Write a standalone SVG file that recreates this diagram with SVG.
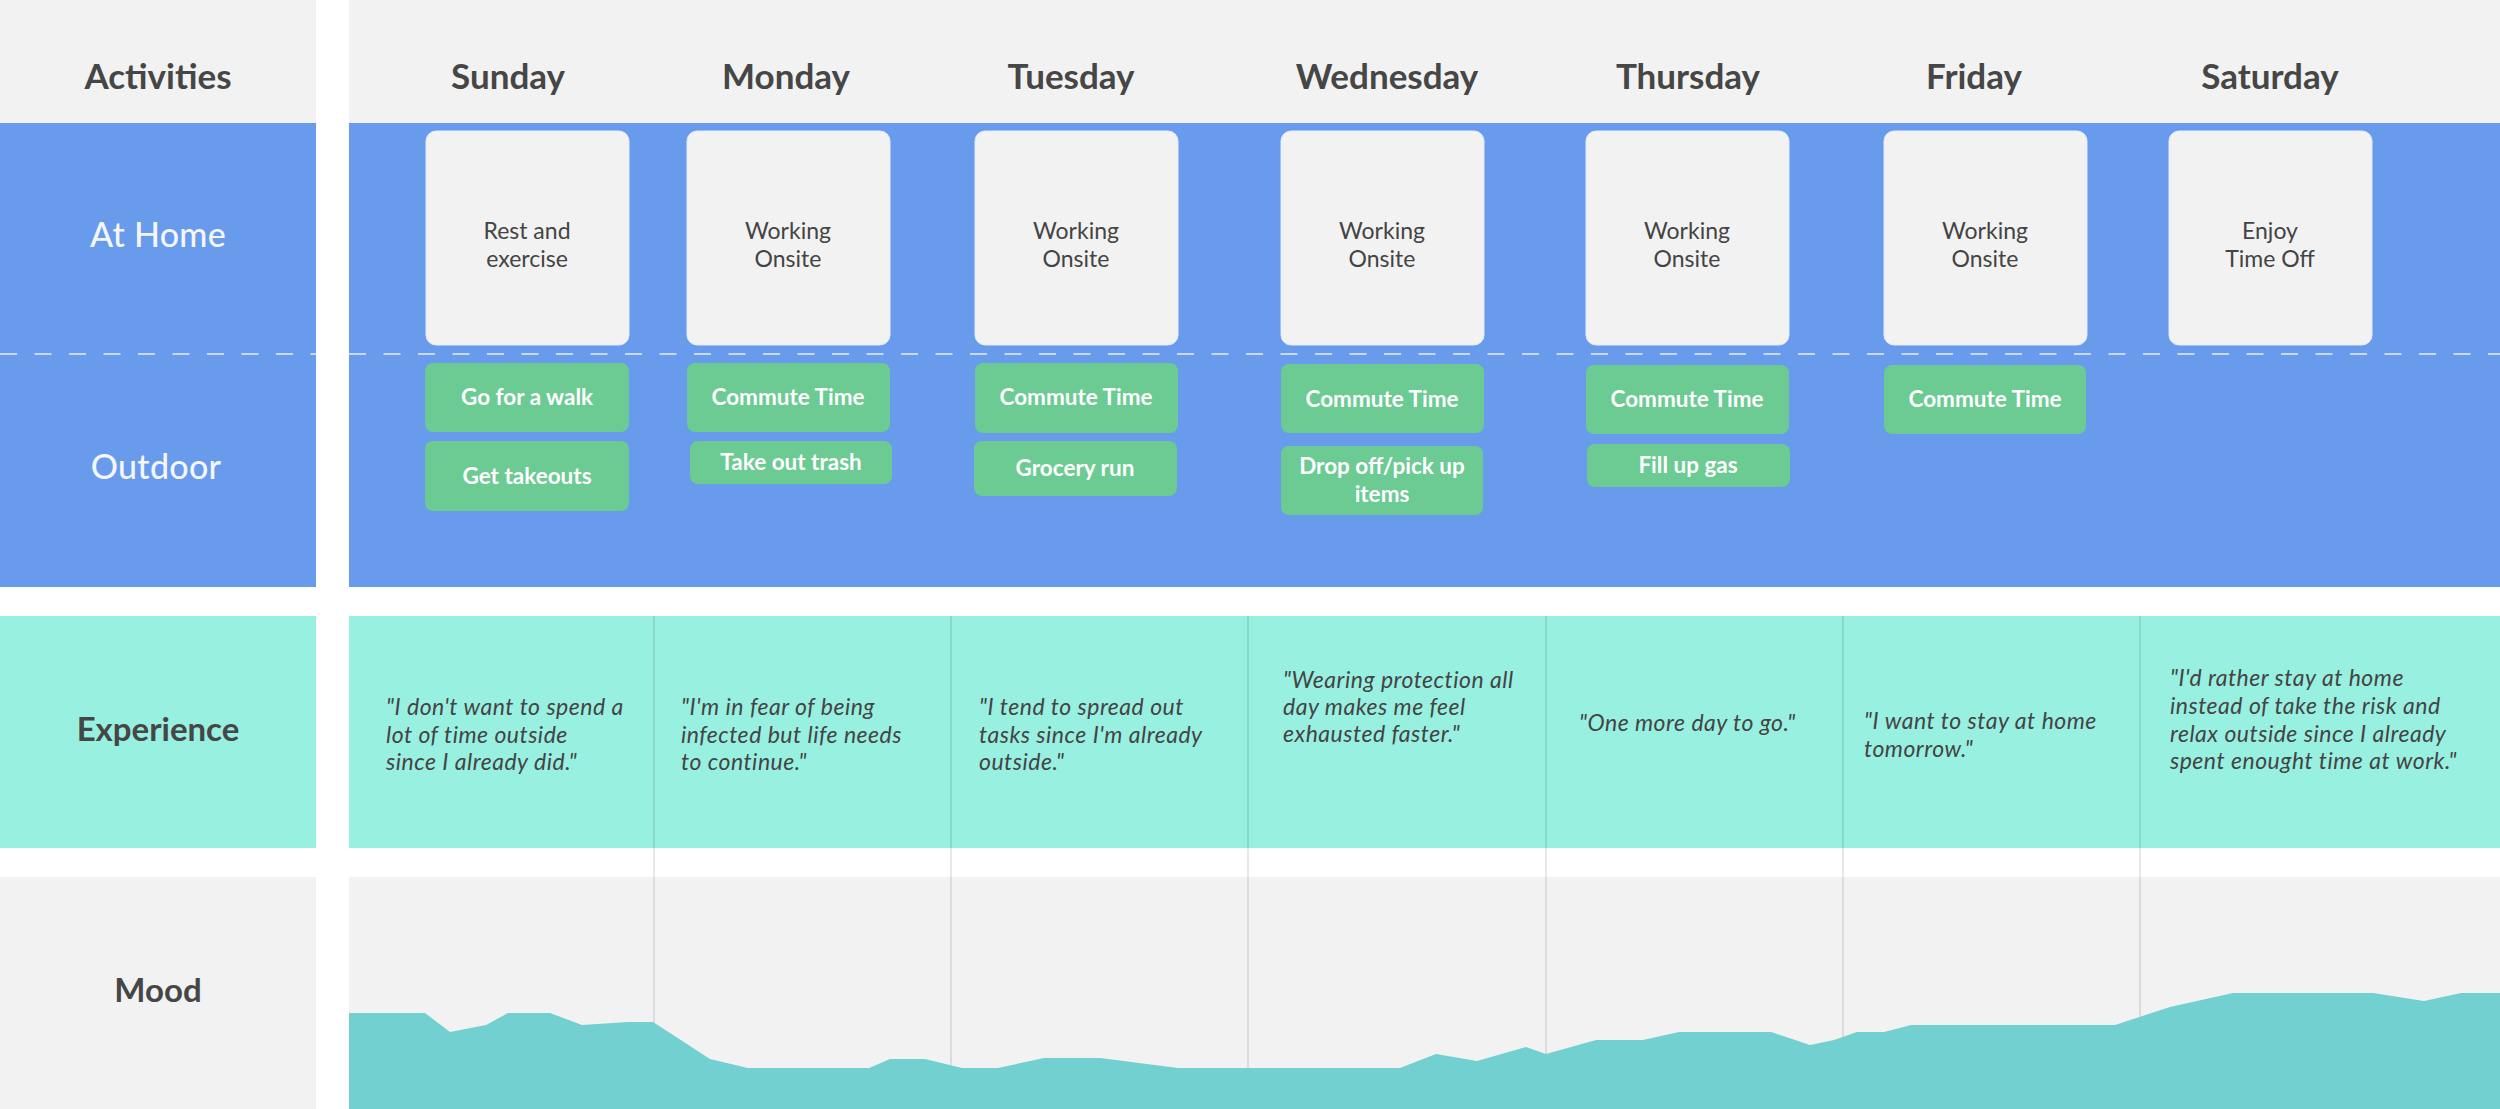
<svg xmlns="http://www.w3.org/2000/svg" width="2500" height="1109" viewBox="0 0 2500 1109">
<style>
.hdr{font-family:Lato,"Open Sans","Liberation Sans",sans-serif;font-weight:700;font-size:35px;fill:#464646;text-anchor:middle}
.lbl{font-family:Lato,"Open Sans","Liberation Sans",sans-serif;font-weight:700;font-size:33px;text-anchor:middle}
.lblw{font-family:Lato,"Open Sans","Liberation Sans",sans-serif;font-weight:500;font-size:34px;fill:#f4f6fb;text-anchor:middle;letter-spacing:0.3px}
.card{fill:#f2f2f2;stroke:#e4ecfb;stroke-width:1}
.ctext{font-family:Lato,"Open Sans","Liberation Sans",sans-serif;font-size:23px;fill:#444;text-anchor:middle}
.out{fill:#6bcb92}
.otext{font-family:Lato,"Open Sans","Liberation Sans",sans-serif;font-weight:700;font-size:22.5px;fill:#fff;text-anchor:middle}
.quote{font-family:Lato,"Open Sans","Liberation Sans",sans-serif;font-style:italic;font-size:23px;letter-spacing:0.5px;fill:#444}
.dash{stroke:#e6edfb;stroke-width:1.5;stroke-dasharray:17 17.5}
.div{stroke:#000;stroke-opacity:0.18;stroke-width:1}
</style>
<rect width="2500" height="1109" fill="#ffffff"/>
<g id="bands">
<rect x="0" y="0" width="316" height="123" fill="#f2f2f2"/>
<rect x="349" y="0" width="2151" height="123" fill="#f2f2f2"/>
<rect x="0" y="123" width="316" height="464" fill="#689bec"/>
<rect x="349" y="123" width="2151" height="464" fill="#689bec"/>
<rect x="0" y="616" width="316" height="232" fill="#98f0e1"/>
<rect x="349" y="616" width="2151" height="232" fill="#98f0e1"/>
<rect x="0" y="877" width="316" height="232" fill="#f2f2f2"/>
<rect x="349" y="877" width="2151" height="232" fill="#f2f2f2"/>
<line class="dash" x1="0" y1="354" x2="316" y2="354"/>
<line class="dash" x1="349" y1="354" x2="2500" y2="354"/>
</g>
<g id="grid">
<line class="div" x1="654" y1="616" x2="654" y2="1109"/>
<line class="div" x1="951" y1="616" x2="951" y2="1109"/>
<line class="div" x1="1248" y1="616" x2="1248" y2="1109"/>
<line class="div" x1="1546" y1="616" x2="1546" y2="1109"/>
<line class="div" x1="1843" y1="616" x2="1843" y2="1109"/>
<line class="div" x1="2140" y1="616" x2="2140" y2="1109"/>
</g>
<g id="row-labels">
<text class="hdr" x="158" y="89">Activities</text>
<text class="lblw" x="158" y="247">At Home</text>
<text class="lblw" x="156" y="479">Outdoor</text>
<text class="lbl" x="158" y="741" fill="#464646">Experience</text>
<text class="lbl" x="158" y="1002" fill="#464646">Mood</text>
</g>
<g id="day-headers">
<text class="hdr" x="508" y="89">Sunday</text>
<text class="hdr" x="786" y="89">Monday</text>
<text class="hdr" x="1071" y="89">Tuesday</text>
<text class="hdr" x="1387" y="89">Wednesday</text>
<text class="hdr" x="1688" y="89">Thursday</text>
<text class="hdr" x="1974" y="89">Friday</text>
<text class="hdr" x="2270" y="89">Saturday</text>
</g>
<g id="home-sunday"><rect class="card" x="426" y="131" width="203" height="214" rx="10"/><text class="ctext" x="527" y="239">Rest and</text><text class="ctext" x="527" y="267">exercise</text></g>
<g id="home-monday"><rect class="card" x="687" y="131" width="203" height="214" rx="10"/><text class="ctext" x="788" y="239">Working</text><text class="ctext" x="788" y="267">Onsite</text></g>
<g id="home-tuesday"><rect class="card" x="975" y="131" width="203" height="214" rx="10"/><text class="ctext" x="1076" y="239">Working</text><text class="ctext" x="1076" y="267">Onsite</text></g>
<g id="home-wednesday"><rect class="card" x="1281" y="131" width="203" height="214" rx="10"/><text class="ctext" x="1382" y="239">Working</text><text class="ctext" x="1382" y="267">Onsite</text></g>
<g id="home-thursday"><rect class="card" x="1586" y="131" width="203" height="214" rx="10"/><text class="ctext" x="1687" y="239">Working</text><text class="ctext" x="1687" y="267">Onsite</text></g>
<g id="home-friday"><rect class="card" x="1884" y="131" width="203" height="214" rx="10"/><text class="ctext" x="1985" y="239">Working</text><text class="ctext" x="1985" y="267">Onsite</text></g>
<g id="home-saturday"><rect class="card" x="2169" y="131" width="203" height="214" rx="10"/><text class="ctext" x="2270" y="239">Enjoy</text><text class="ctext" x="2270" y="267">Time Off</text></g>
<g id="out-sunday-walk"><rect class="out" x="425" y="363" width="204" height="69" rx="8"/><text class="otext" x="527" y="405">Go for a walk</text></g>
<g id="out-sunday-takeouts"><rect class="out" x="425" y="441" width="204" height="70" rx="8"/><text class="otext" x="527" y="484">Get takeouts</text></g>
<g id="out-monday-commute"><rect class="out" x="687" y="363" width="203" height="69" rx="8"/><text class="otext" x="788" y="405">Commute Time</text></g>
<g id="out-monday-trash"><rect class="out" x="690" y="441" width="202" height="43" rx="8"/><text class="otext" x="791" y="470">Take out trash</text></g>
<g id="out-tuesday-commute"><rect class="out" x="975" y="363" width="203" height="70" rx="8"/><text class="otext" x="1076" y="405">Commute Time</text></g>
<g id="out-tuesday-grocery"><rect class="out" x="974" y="441" width="203" height="55" rx="8"/><text class="otext" x="1075" y="476">Grocery run</text></g>
<g id="out-wednesday-commute"><rect class="out" x="1281" y="364" width="203" height="69" rx="8"/><text class="otext" x="1382" y="407">Commute Time</text></g>
<g id="out-wednesday-drop"><rect class="out" x="1281" y="446" width="202" height="69" rx="8"/><text class="otext" x="1382" y="474">Drop off/pick up</text><text class="otext" x="1382" y="502">items</text></g>
<g id="out-thursday-commute"><rect class="out" x="1586" y="365" width="203" height="69" rx="8"/><text class="otext" x="1687" y="407">Commute Time</text></g>
<g id="out-thursday-gas"><rect class="out" x="1587" y="444" width="203" height="43" rx="8"/><text class="otext" x="1688" y="473">Fill up gas</text></g>
<g id="out-friday-commute"><rect class="out" x="1884" y="365" width="202" height="69" rx="8"/><text class="otext" x="1985" y="407">Commute Time</text></g>
<g id="exp-sunday"><text class="quote" x="386" y="715">"I don't want to spend a</text><text class="quote" x="386" y="743">lot of time outside</text><text class="quote" x="386" y="770">since I already did."</text></g>
<g id="exp-monday"><text class="quote" x="681" y="715">"I'm in fear of being</text><text class="quote" x="681" y="743">infected but life needs</text><text class="quote" x="681" y="770">to continue."</text></g>
<g id="exp-tuesday"><text class="quote" x="979" y="715">"I tend to spread out</text><text class="quote" x="979" y="743">tasks since I'm already</text><text class="quote" x="979" y="770">outside."</text></g>
<g id="exp-wednesday"><text class="quote" x="1283" y="688">"Wearing protection all</text><text class="quote" x="1283" y="715">day makes me feel</text><text class="quote" x="1283" y="742">exhausted faster."</text></g>
<g id="exp-thursday"><text class="quote" x="1579" y="731">"One more day to go."</text></g>
<g id="exp-friday"><text class="quote" x="1864" y="729">"I want to stay at home</text><text class="quote" x="1864" y="757">tomorrow."</text></g>
<g id="exp-saturday"><text class="quote" x="2170" y="686">"I'd rather stay at home</text><text class="quote" x="2170" y="714">instead of take the risk and</text><text class="quote" x="2170" y="742">relax outside since I already</text><text class="quote" x="2170" y="769">spent enought time at work."</text></g>
<g id="mood-curve">
<polygon fill="#72d0d1" points="349,1013 425,1013 450,1032 486,1025 508,1013 550,1013 582,1025 628,1022 653,1022 710,1059 748,1068 869,1068 890,1059 925,1059 962,1068 998,1068 1044,1058 1100,1058 1178,1068 1400,1068 1436,1054 1477,1061 1526,1047 1546,1054 1596,1040 1643,1040 1679,1032 1771,1032 1810,1045 1834,1040 1857,1032 1884,1032 1911,1025 2115,1025 2170,1007 2233,993 2373,993 2424,1001 2461,993 2500,993 2500,1109 349,1109"/>
</g>
<g id="connectors"/>
</svg>
